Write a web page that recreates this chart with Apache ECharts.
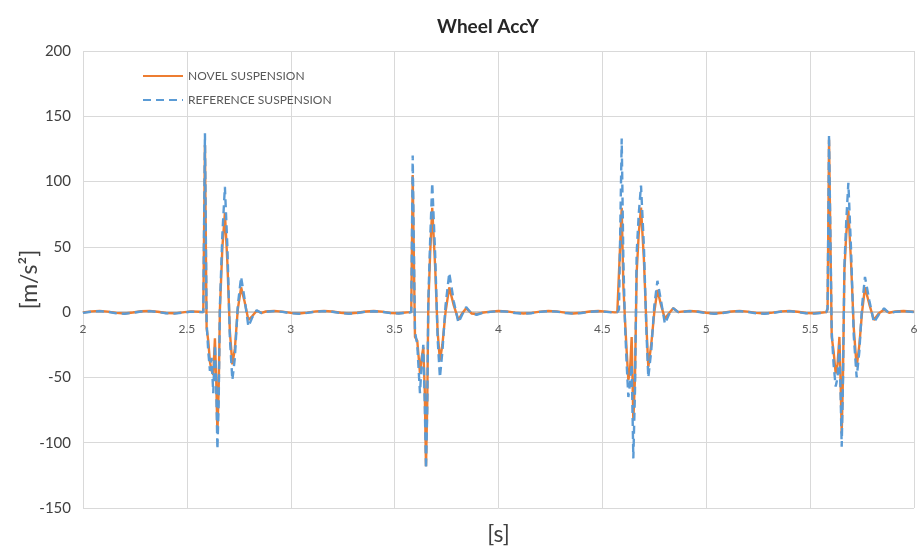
<!DOCTYPE html>
<html>
<head>
<meta charset="utf-8">
<script src="https://cdn.jsdelivr.net/npm/echarts@6/dist/echarts.min.js"></script>
<style>
  html, body { margin: 0; padding: 0; background: #fff; }
  #main { width: 924px; height: 547px; }
</style>
</head>
<body>
<div id="main"></div>
<script>
// time [s], one row per segment (baseline / event)
var timeS = [
  2.00,2.04,2.08,2.12,2.16,2.20,2.24,2.28,2.32,2.36,2.40,2.44,2.48,2.52,2.56,
  2.579,2.587,2.595,2.603,2.611,2.619,2.627,2.635,2.641,2.647,2.653,2.659,2.671,2.683,2.695,2.707,2.719,2.731,2.745,2.761,2.778,2.796,2.815,2.836,2.860,
  2.88,2.92,2.96,3.00,3.04,3.08,3.12,3.16,3.20,3.24,3.28,3.32,3.36,3.40,3.44,3.48,3.52,3.56,
  3.580,3.587,3.598,3.609,3.616,3.622,3.630,3.638,3.645,3.651,3.657,3.662,3.671,3.681,3.695,3.707,3.718,3.730,3.745,3.763,3.785,3.807,3.825,3.844,3.870,3.895,
  3.92,3.96,4.00,4.04,4.08,4.12,4.16,4.20,4.24,4.28,4.32,4.36,4.40,4.44,4.48,4.52,4.56,
  4.572,4.580,4.593,4.601,4.609,4.617,4.625,4.633,4.641,4.649,4.657,4.665,4.675,4.686,4.700,4.712,4.721,4.735,4.750,4.765,4.783,4.801,4.820,4.841,4.865,
  4.88,4.92,4.96,5.00,5.04,5.08,5.12,5.16,5.20,5.24,5.28,5.32,5.36,5.40,5.44,5.48,5.52,5.56,
  5.578,5.584,5.591,5.604,5.613,5.623,5.632,5.641,5.647,5.652,5.658,5.665,5.674,5.684,5.697,5.710,5.724,5.737,5.750,5.764,5.785,5.807,5.830,5.856,5.880,
  5.91,5.95,6.00
];
// NOVEL SUSPENSION [m/s2]
var novel = [
  -0.3,0.6,1.0,0.4,-0.6,-1.0,-0.3,0.7,1.0,0.3,-0.7,-0.9,-0.2,0.6,0.3,
  0,128,-12,-22,-38,-45,-48,-20,-50,-92,-60,2,50,76,38,-15,-40,-28,2,19,8,-6,-3,1,-0.5,
  0.5,1.0,0.4,-0.6,-1.0,-0.4,0.6,1.0,0.5,-0.5,-1.0,-0.5,0.5,0.9,0.4,-0.6,-0.8,-0.2,
  0,105,-19,-22,-35,-47,-35,-27,-60,-118,-70,4,45,80,35,-15,-37,-25,0,19,5,-6,-1,3,-1,-1.5,
  -0.5,0.4,1.0,0.6,-0.4,-1.0,-0.6,0.4,1.0,0.6,-0.4,-1.0,-0.5,0.5,0.9,0.4,-0.2,
  0,1,80,20,-6,-30,-52,-45,-19,-83,-50,30,60,80,40,-10,-42,-25,0,17,5,-5,-1,3,0,
  0.4,1.0,0.5,-0.5,-1.0,-0.5,0.5,1.0,0.4,-0.6,-1.0,-0.4,0.6,1.0,0.3,-0.7,-0.9,-0.3,
  0,2,132,-19,-30,-47,-40,-19,-55,-93,-50,32,60,78,38,-12,-42,-25,0,19,6,-6,-1,2,-0.5,
  0.5,0.9,0.3
];
// REFERENCE SUSPENSION [m/s2]
var reference = [
  -0.6,0.3,0.8,0.2,-0.9,-1.2,-0.5,0.5,0.8,0.1,-0.9,-1.1,-0.4,0.4,0.1,
  0,137,-8,-30,-45,-35,-62,-25,-55,-105,-70,5,60,96,50,-20,-52,-35,5,27,10,-11,-4,1.5,-0.8,
  0.2,0.8,0.2,-0.9,-1.2,-0.6,0.4,0.8,0.3,-0.8,-1.2,-0.7,0.3,0.7,0.2,-0.8,-1.0,-0.4,
  0,120,-15,-25,-45,-62,-40,-25,-70,-120,-75,8,55,99,45,-20,-50,-30,5,30,8,-8,-2,4,-1,-2,
  -0.8,0.2,0.8,0.4,-0.7,-1.2,-0.8,0.2,0.8,0.4,-0.7,-1.2,-0.7,0.3,0.7,0.2,-0.4,
  0,2,133,40,-10,-40,-65,-55,-40,-112,-60,45,75,97,50,-15,-50,-30,5,24,8,-9,-2,3,0,
  0.1,0.8,0.3,-0.8,-1.2,-0.7,0.3,0.8,0.2,-0.9,-1.2,-0.6,0.4,0.8,0.1,-0.9,-1.1,-0.5,
  0,3,136,-15,-40,-57,-50,-25,-65,-103,-55,35,70,99,48,-18,-50,-30,5,27,9,-8,-2,3,-0.8,
  0.2,0.7,0.1
];
var seriesNames = ['NOVEL SUSPENSION', 'REFERENCE SUSPENSION'];

function pairs(vals) {
  var out = [];
  for (var i = 0; i < timeS.length; i++) out.push([timeS[i], vals[i]]);
  return out;
}

var myChart = echarts.init(document.getElementById('main'));
var option = {
  backgroundColor: '#fff',
  animation: false,
  textStyle: { fontFamily: 'Lato' },
  title: {
    text: 'Wheel AccY',
    left: 483, top: 12, textAlign: 'center',
    textStyle: { fontSize: 19, fontWeight: 'bold', color: '#262626', fontFamily: 'Lato' }
  },
  color: ['#ED7D31', '#5B9BD5'],
  legend: {
    data: seriesNames,
    orient: 'vertical',
    left: 137, top: 65,
    itemWidth: 40, itemHeight: 14, itemGap: 12,
    itemStyle: { opacity: 0 },
    textStyle: { fontSize: 12, color: '#595959' }
  },
  grid: { left: 83, right: 10, top: 51, bottom: 39, outerBoundsMode: 'none' },
  xAxis: {
    type: 'value',
    min: 2, max: 6, interval: 0.5,
    position: 'bottom',
    offset: -196,
    name: '[s]', nameLocation: 'middle', nameGap: 211,
    nameTextStyle: { fontSize: 23, color: '#404040' },
    axisLine: { show: true, onZero: false, lineStyle: { color: '#BFBFBF', width: 1.5 } },
    axisTick: { show: false },
    axisLabel: { fontSize: 12, color: '#595959', margin: 11, showMinLabel: true, showMaxLabel: true },
    splitLine: { show: true, lineStyle: { color: '#D9D9D9' } }
  },
  yAxis: {
    type: 'value',
    min: -150, max: 200, interval: 50,
    name: '[m/s²]', nameLocation: 'middle', nameGap: 42, nameMoveOverlap: false,
    nameTextStyle: { fontSize: 23, color: '#404040' },
    axisLine: { show: false },
    axisTick: { show: false },
    axisLabel: { fontSize: 15, color: '#404040', margin: 12 },
    splitLine: { show: true, lineStyle: { color: '#D9D9D9' } }
  },
  series: [
    {
      name: seriesNames[0],
      type: 'line',
      symbol: 'none',
      data: pairs(novel),
      lineStyle: { width: 2.4, color: '#ED7D31' }
    },
    {
      name: seriesNames[1],
      type: 'line',
      symbol: 'none',
      data: pairs(reference),
      lineStyle: { width: 2.4, color: '#5B9BD5', type: [8, 5] }
    }
  ]
};
myChart.setOption(option);
</script>
</body>
</html>
